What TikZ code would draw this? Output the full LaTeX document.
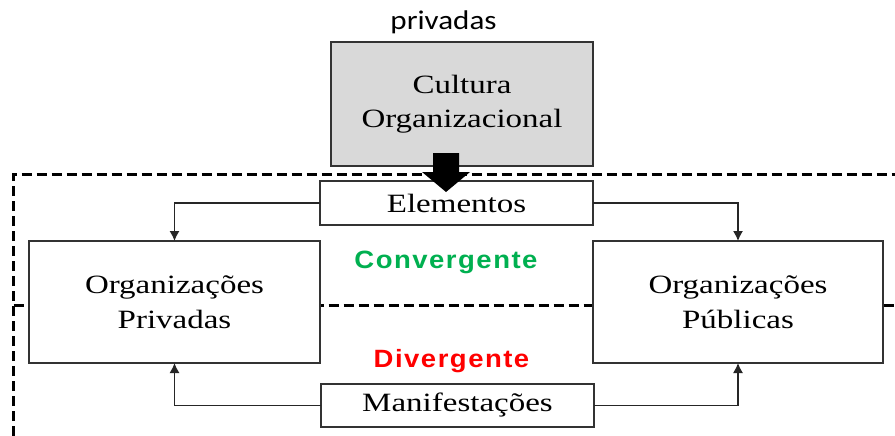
\documentclass[tikz,border=0pt]{standalone}
\usepackage{fontspec}
\setmainfont{Liberation Serif}[FakeStretch=1.25]
\newfontfamily\calfont{Carlito}[FakeStretch=1.15]
\newfontfamily\arialf{Liberation Sans}[FakeStretch=1.1,LetterSpace=6]
\usetikzlibrary{arrows.meta}
\definecolor{boxgray}{RGB}{217,217,217}
\definecolor{convgreen}{RGB}{0,176,80}
\definecolor{divred}{RGB}{255,0,0}
\tikzset{
  orgbox/.style={draw=black!80, line width=1.3pt, fill=white, inner sep=0pt, outer sep=0pt, align=center,
    font=\fontsize{26.4}{34.5}\selectfont},
  frameline/.style={line width=3pt, dash pattern=on 10pt off 5pt},
  conn/.style={line width=1.3pt, draw=black!85, -{Latex[length=10pt,width=10pt]}},
  bigtext/.style={font=\arialf\bfseries\fontsize{25}{28}\selectfont, anchor=base}
}
\begin{document}
\begin{tikzpicture}[x=1pt,y=-1pt]
\useasboundingbox (0,0) rectangle (895,436);
\fill[white] (0,0) rectangle (895,436);
% dashed frame
\draw[frameline] (13.5,436) -- (13.5,174) -- (895,174);
\draw[frameline] (13.5,305) -- (895,305);
% title
\node[font=\calfont\fontsize{27}{30}\selectfont, anchor=base] (title) at (443.5,30) {privadas};
% boxes
\node[orgbox, fill=boxgray, minimum width=262pt, minimum height=124pt] (cult) at (462,104) {Cultura\\Organizacional};
\node[orgbox, minimum width=273pt, minimum height=44pt] (elem) at (456.5,203) {Elementos};
\node[orgbox, minimum width=291pt, minimum height=122pt] (priv) at (174.5,302) {Organizações\\Privadas};
\node[orgbox, minimum width=290pt, minimum height=122pt] (pub) at (738,302) {Organizações\\Públicas};
\node[orgbox, minimum width=273pt, minimum height=43pt] (manif) at (457.5,405.5) {Manifestações};
% labels
\node[bigtext, text=convgreen] (conv) at (446,268) {Convergente};
\node[bigtext, text=divred] (div) at (451.5,367) {Divergente};
% block arrow
\fill[black] (433,153) -- (459,153) -- (459,172) -- (470,172) -- (446,192) -- (422,172) -- (433,172) -- cycle;
% connectors
\draw[conn] (elem.west) -| (priv.north);
\draw[conn] (elem.east) -| (pub.north);
\draw[conn] (manif.west) -| (priv.south);
\draw[conn] (manif.east) -| (pub.south);
\end{tikzpicture}
\end{document}
